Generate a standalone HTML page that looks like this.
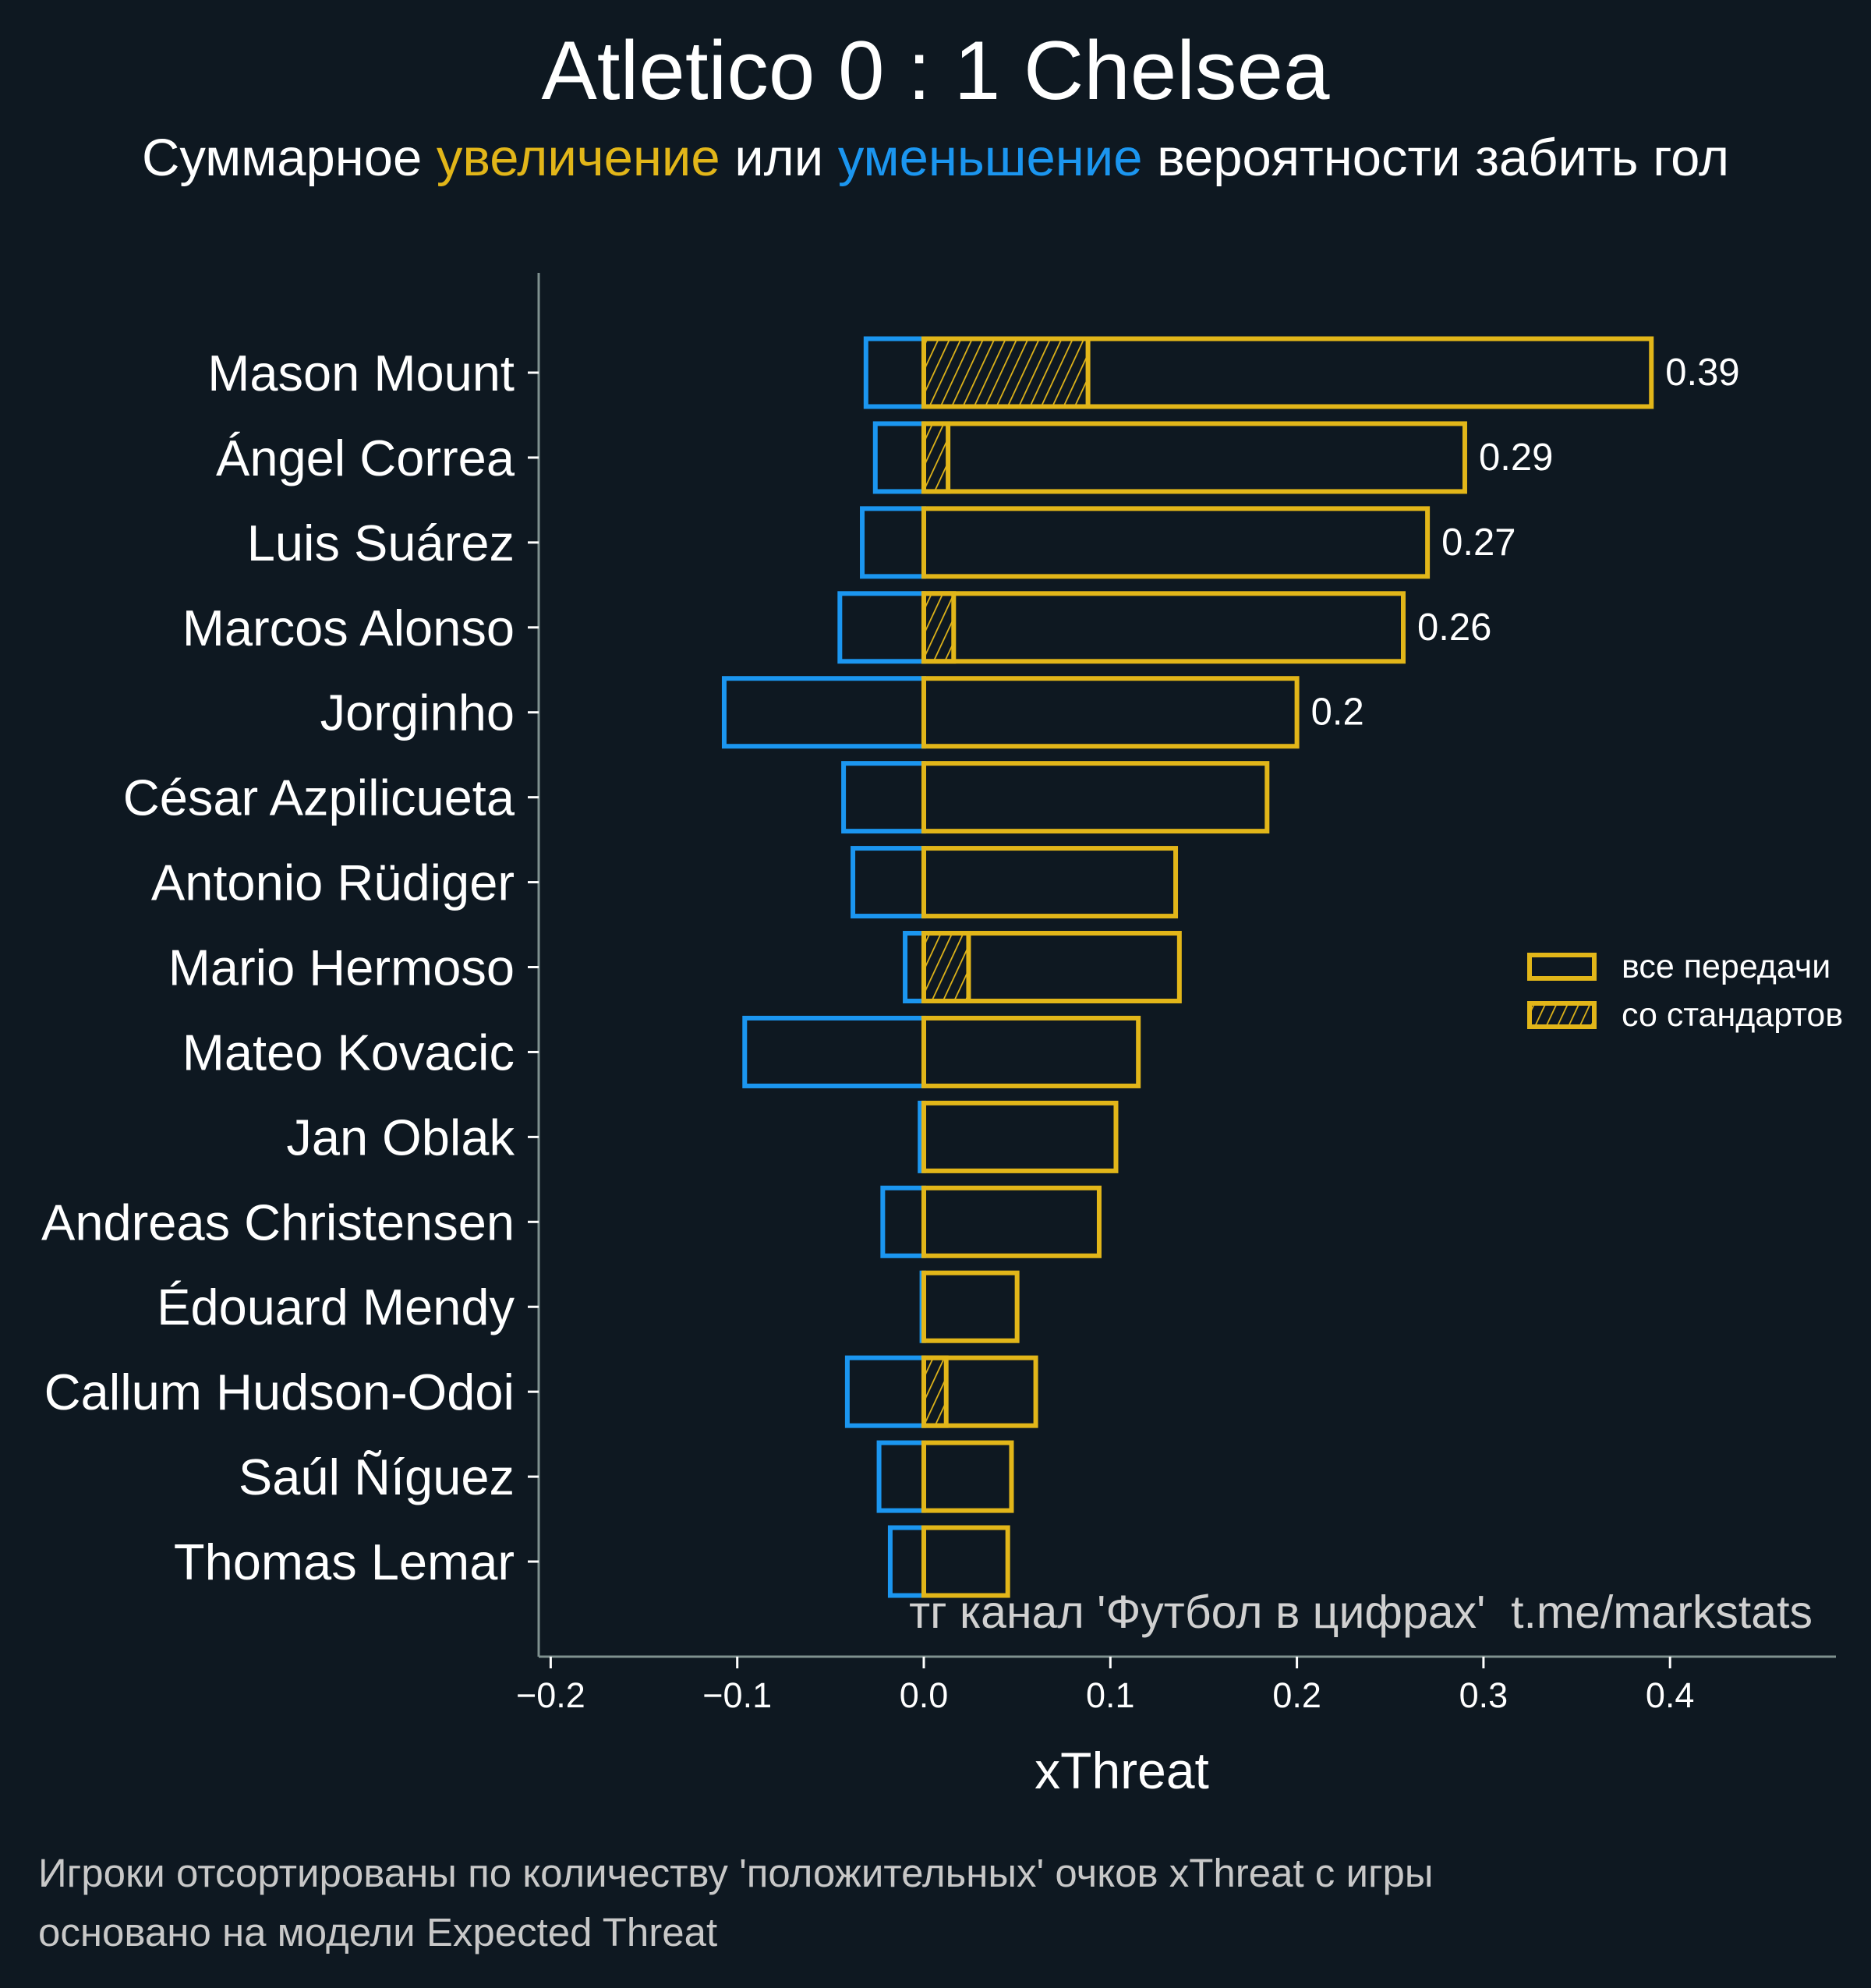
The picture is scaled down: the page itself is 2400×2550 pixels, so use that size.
<!DOCTYPE html>
<html><head><meta charset="utf-8"><style>
html,body{margin:0;padding:0;background:#0e1821;}
svg{display:block;font-family:"Liberation Sans","Noto Sans CJK SC",sans-serif;}
</style></head><body>
<svg id="chart" width="2400" height="2550" viewBox="0 0 2400 2550" xmlns="http://www.w3.org/2000/svg">
<defs>
<pattern id="hatch" patternUnits="userSpaceOnUse" width="13" height="13" patternTransform="rotate(25)">
<line x1="0" y1="0" x2="0" y2="13" stroke="#e2b619" stroke-width="3.5"/>
</pattern>
</defs>
<rect width="2400" height="2550" fill="#0e1821"/>
<text x="1200" y="127" text-anchor="middle" font-size="107" fill="#fff">Atletico 0 : 1 Chelsea</text>
<text x="1200" y="225" text-anchor="middle" font-size="67" fill="#fff">Суммарное <tspan fill="#e2b619">увеличение</tspan> или <tspan fill="#1b96f0">уменьшение</tspan> вероятности забить гол</text>
<line x1="691" y1="350" x2="691" y2="2125" stroke="#7f918f" stroke-width="3"/>
<line x1="691" y1="2125" x2="2355" y2="2125" stroke="#7f918f" stroke-width="3"/>
<g id="bars"></g>
<g id="axes"></g>
<text x="1439" y="2294" text-anchor="middle" font-size="66" fill="#fff">xThreat</text>
<text x="2325" y="2088" text-anchor="end" font-size="59" fill="#d0d0d0">тг канал 'Футбол в цифрах'&#160; t.me/markstats</text>
<g>
<rect x="1962" y="1225" width="83" height="30" fill="none" stroke="#e2b619" stroke-width="6"/>
<text x="2080" y="1254" font-size="43" fill="#fff">все передачи</text>
<rect x="1962" y="1287" width="83" height="30" fill="url(#hatch)" stroke="#e2b619" stroke-width="6"/>
<text x="2080" y="1316" font-size="43" fill="#fff">со стандартов</text>
</g>
<text x="49" y="2420" font-size="51" fill="#c8c8c8">Игроки отсортированы по количеству 'положительных' очков xThreat с игры</text>
<text x="49" y="2496" font-size="51" fill="#c8c8c8">основано на модели Expected Threat</text>
</svg>
<script>
const players = ["Mason Mount","Ángel Correa","Luis Suárez","Marcos Alonso","Jorginho","César Azpilicueta","Antonio Rüdiger","Mario Hermoso","Mateo Kovacic","Jan Oblak","Andreas Christensen","Édouard Mendy","Callum Hudson-Odoi","Saúl Ñíguez","Thomas Lemar"];
const positive = [0.39,0.29,0.27,0.257,0.2,0.184,0.135,0.137,0.115,0.103,0.094,0.050,0.060,0.047,0.045];
const negative = [-0.031,-0.026,-0.033,-0.045,-0.107,-0.043,-0.038,-0.010,-0.096,-0.002,-0.022,-0.001,-0.041,-0.024,-0.018];
const setPiece = [0.088,0.013,0,0.016,0,0,0,0.024,0,0,0,0,0.012,0,0];
const xTicks = [-0.2,-0.1,0.0,0.1,0.2,0.3,0.4];
const xTickLabels = ["\u22120.2","\u22120.1","0.0","0.1","0.2","0.3","0.4"];

const NS = "http://www.w3.org/2000/svg";
const xScale = v => 1185 + v * 2393;
const yScale = i => 478 + i * 108.93;
const barH = 87;
const bars = document.getElementById('bars');
const axes = document.getElementById('axes');
function mk(tag, attrs, parent){const e=document.createElementNS(NS,tag);for(const k in attrs)e.setAttribute(k,attrs[k]);parent.appendChild(e);return e;}

players.forEach((p,i)=>{
  const yc = yScale(i);
  const nb = mk('rect',{x:xScale(negative[i]),y:yc-barH/2,width:Math.max(0,xScale(0)-xScale(negative[i])),height:barH,fill:'none',stroke:'#1b96f0','stroke-width':6},bars);
  
  
  const pb = mk('rect',{x:xScale(0),y:yc-barH/2,width:xScale(positive[i])-xScale(0),height:barH,fill:'none',stroke:'#e2b619','stroke-width':6},bars);
  
  
  if(setPiece[i]>0){
    const hb = mk('rect',{x:xScale(0),y:yc-barH/2,width:xScale(setPiece[i])-xScale(0),height:barH,fill:'url(#hatch)',stroke:'#e2b619','stroke-width':6},bars);
    
    
  }
  if(positive[i]>=0.19){
    const t = mk('text',{x:xScale(positive[i])+18,y:yc+16,'font-size':49,fill:'#fff'},bars);
    t.textContent = String(Math.round(positive[i]*100)/100);
    
    
  }
  const tk = mk('line',{x1:677,y1:yc,x2:691,y2:yc,stroke:'#fff','stroke-width':3},axes);
  
  
  const lb = mk('text',{x:660,y:yc+23,'text-anchor':'end','font-size':65,fill:'#fff'},axes);
  lb.textContent = p;
  
  
});
xTicks.forEach((v,i)=>{
  const x = xScale(v);
  const tk = mk('line',{x1:x,y1:2125,x2:x,y2:2140,stroke:'#fff','stroke-width':3},axes);
  
  
  const t = mk('text',{x:x,y:2190,'text-anchor':'middle','font-size':45,fill:'#fff'},axes);
  t.textContent = xTickLabels[i];
  
  
});
</script>
</body></html>
